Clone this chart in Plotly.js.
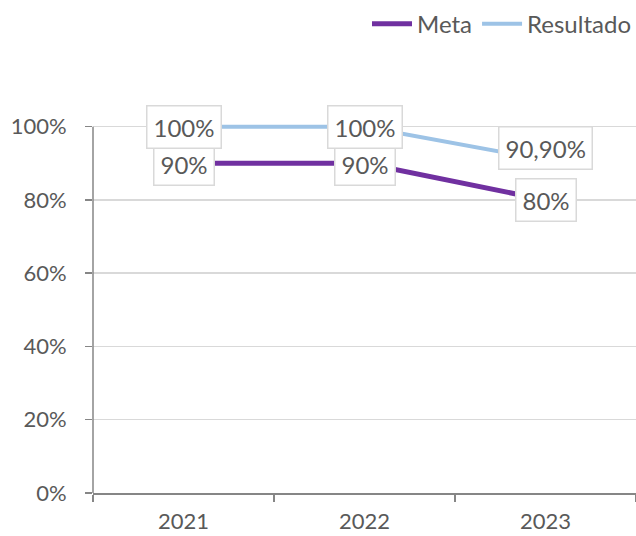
<!DOCTYPE html>
<html>
<head>
<meta charset="utf-8">
<script src="https://cdn.plot.ly/plotly-3.0.1.min.js"></script>
<style>
  html, body { margin: 0; padding: 0; background: #fff; }
  #graph { width: 636px; height: 536px; }
</style>
</head>
<body>
<div id="graph"></div>
<script>
// years
var years = ['2021', '2022', '2023'];
// series
var meta = [0.9, 0.9, 0.8];
var resultado = [1, 1, 0.909];
// label texts as shown on the chart
var metaLabels = ['90%', '90%', '80%'];
var resLabels = ['100%', '100%', '90,90%'];
// y ticks
var yTicks = [0, 0.2, 0.4, 0.6, 0.8, 1];
var yTickText = ['0%', '20%', '40%', '60%', '80%', '100%'];

var txtColor = '#595959';
var fnt = 'Lato, "Open Sans", sans-serif';

var traceMeta = {
    x: years,
    y: meta,
    name: 'Meta',
    mode: 'lines',
    type: 'scatter',
    line: { color: '#7030A0', width: 5 }
};

var traceRes = {
    x: years,
    y: resultado,
    name: 'Resultado',
    mode: 'lines',
    type: 'scatter',
    line: { color: '#9DC3E6', width: 4 }
};

// data labels (x by category index, the axis is categorical)
var annotations = [];
function addLabels(vals, labels, shifts) {
    for (var i = 0; i < vals.length; i++) {
        annotations.push({
            x: i,
            y: vals[i],
            text: labels[i],
            showarrow: false,
            yshift: shifts[i],
            bgcolor: '#ffffff',
            bordercolor: '#d9d9d9',
            borderwidth: 1.5,
            borderpad: 6,
            font: { family: fnt, size: 24, color: txtColor }
        });
    }
}
addLabels(meta, metaLabels, [-1, -1, 0]);
addLabels(resultado, resLabels, [0, 0, 12]);

var layout = {
    width: 636,
    height: 536,
    // a little room above 100% so the top line is not clipped
    margin: { l: 93, r: 0, t: 123, b: 43 },
    paper_bgcolor: '#ffffff',
    plot_bgcolor: '#ffffff',
    font: { family: fnt, size: 22, color: txtColor },
    showlegend: true,
    legend: {
        orientation: 'h',
        x: 1.005,
        xanchor: 'right',
        yref: 'container',
        y: 0.955,
        yanchor: 'middle',
        font: { family: fnt, size: 24, color: txtColor },
        itemwidth: 40,
        tracegroupgap: 0
    },
    xaxis: {
        type: 'category',
        categoryorder: 'array',
        categoryarray: years,
        range: [-0.5, 2.5],
        tickson: 'boundaries',
        showgrid: false,
        showline: true,
        linecolor: '#868686',
        linewidth: 1.5,
        ticks: 'outside',
        ticklen: 7,
        tickcolor: '#868686',
        tickwidth: 1.5,
        ticklabelstandoff: 8,
        zeroline: false,
        fixedrange: true
    },
    yaxis: {
        range: [0, 1.01],
        tickvals: yTicks,
        ticktext: yTickText,
        showgrid: true,
        gridcolor: '#d9d9d9',
        gridwidth: 1.5,
        showline: false,
        ticks: 'outside',
        ticklen: 7,
        tickcolor: '#868686',
        tickwidth: 1.5,
        ticklabelstandoff: 14,
        zeroline: false,
        fixedrange: true
    },
    // y axis line runs only from 0% to 100%
    shapes: [{
        type: 'line', xref: 'paper', yref: 'y',
        x0: 0, x1: 0, y0: 0, y1: 1,
        line: { color: '#868686', width: 1.5 }
    }],
    annotations: annotations
};

Plotly.newPlot('graph', [traceMeta, traceRes], layout, {staticPlot: true});
</script>
</body>
</html>
